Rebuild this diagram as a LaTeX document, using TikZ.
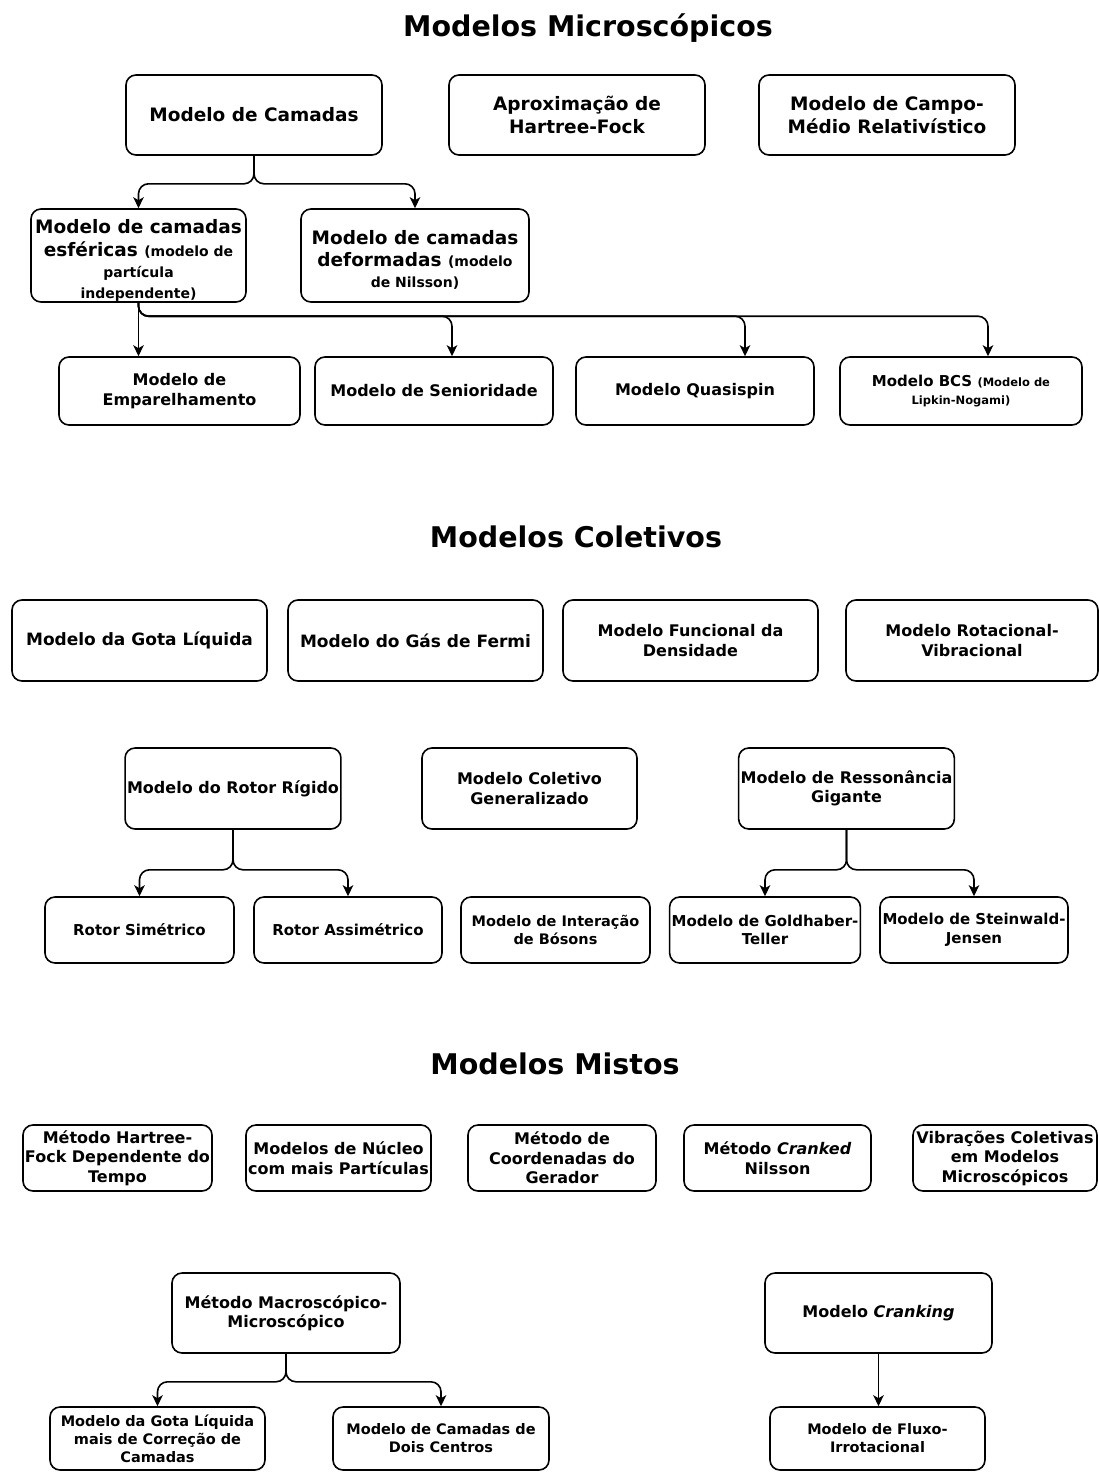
\documentclass[tikz,border=0pt]{standalone}
\usepackage{fontspec}
\setmainfont{DejaVu Sans}
\usetikzlibrary{arrows.meta,calc}
\tikzset{
  box/.style={draw, line width=1.6pt, rounded corners=10pt, align=center, inner sep=2pt},
  conn/.style={line width=1.6pt, rounded corners=10pt, -{Stealth[length=11pt,width=10.5pt,inset=3pt]}},
  ttl/.style={font=\fontsize{28.5}{34}\selectfont\bfseries},
  f18/.style={font=\fontsize{18.5}{22.5}\selectfont\bfseries},
  f17/.style={font=\fontsize{17}{21}\selectfont\bfseries},
  f16/.style={font=\fontsize{16}{19.5}\selectfont\bfseries},
  f15/.style={font=\fontsize{15}{18.5}\selectfont\bfseries},
  f14/.style={font=\fontsize{14.5}{18}\selectfont\bfseries},
}
\newcommand{\smallpar}{\fontsize{14}{17}\selectfont}
\newcommand{\tinypar}{\fontsize{11.5}{14}\selectfont}
\begin{document}
\begin{tikzpicture}[x=1pt,y=-1pt]
\useasboundingbox (0,0) rectangle (1099,1472);

% ---------- Modelos Microscópicos ----------
\node[ttl] (t1) at (588,28) {Modelos Microscópicos};
\node[box,f18,minimum width=256pt,minimum height=80pt] (camadas) at (254,115) {Modelo de Camadas};
\node[box,f18,minimum width=256pt,minimum height=80pt] (hf) at (577,115) {Aproximação de\\Hartree-Fock};
\node[box,f18,minimum width=256pt,minimum height=80pt] (rmf) at (887,115) {Modelo de Campo-\\Médio Relativístico};
\node[box,minimum width=215pt,minimum height=93pt,
  label={[f18,align=center,yshift=-5pt]center:{Modelo de camadas\\esféricas {\smallpar (modelo de}\\[-1pt]{\smallpar partícula}\\[-2pt]{\smallpar independente)}}}] (esf) at (138.5,255.5) {};
\node[box,minimum width=228pt,minimum height=93pt,
  label={[f18,align=center,yshift=-4pt]center:{Modelo de camadas\\deformadas {\smallpar (modelo}\\[-2pt]{\smallpar de Nilsson)}}}] (def) at (415,255.5) {};
\node[box,f16,minimum width=241pt,minimum height=68pt] (emp) at (179.5,391) {Modelo de\\Emparelhamento};
\node[box,f16,minimum width=238pt,minimum height=68pt] (sen) at (434,391) {Modelo de Senioridade};
\node[box,f16,minimum width=238pt,minimum height=68pt] (qs) at (695,391) {Modelo Quasispin};
\node[box,f15,minimum width=242pt,minimum height=68pt] (bcs) at (961,391) {Modelo BCS {\tinypar (Modelo de}\\{\tinypar Lipkin-Nogami)}};

\coordinate (senin) at ([xshift=18pt]sen.north);
\coordinate (qsin) at ([xshift=50pt]qs.north);
\coordinate (bcsin) at ([xshift=27pt]bcs.north);

\draw[conn] (camadas.south) -- ++(0,28) -| (esf.north);
\draw[conn] (camadas.south) -- ++(0,28) -| (def.north);
\draw[conn] (esf.south) -- (esf.south |- emp.north);
\draw[conn] (esf.south) |- ($(senin)+(0,-40)$) -- (senin);
\draw[conn] (esf.south) |- ($(qsin)+(0,-40)$) -- (qsin);
\draw[conn] (esf.south) |- ($(bcsin)+(0,-40)$) -- (bcsin);

% ---------- Modelos Coletivos ----------
\node[ttl] (t2) at (576,537) {Modelos Coletivos};
\node[box,f17,minimum width=255pt,minimum height=81pt] (gota) at (139.5,640.5) {Modelo da Gota Líquida};
\node[box,f17,minimum width=255pt,minimum height=81pt] (gas) at (415.5,640.5) {Modelo do Gás de Fermi};
\node[box,f16,minimum width=255pt,minimum height=81pt] (dft) at (690.5,640.5) {Modelo Funcional da\\Densidade};
\node[box,f16,minimum width=252pt,minimum height=81pt] (rv) at (972,640.5) {Modelo Rotacional-\\Vibracional};
\node[box,f16,minimum width=214pt,minimum height=81pt] (rotor) at (233,788.5) {Modelo do Rotor Rígido};
\node[box,f16,minimum width=215pt,minimum height=81pt] (gcm) at (529.5,788.5) {Modelo Coletivo\\Generalizado};
\node[box,f16,minimum width=215pt,minimum height=81pt] (gdr) at (846.5,788.5) {Modelo de Ressonância\\Gigante};
\node[box,f15,minimum width=189pt,minimum height=66pt] (sym) at (139.5,930) {Rotor Simétrico};
\node[box,f15,minimum width=188pt,minimum height=66pt] (asym) at (348,930) {Rotor Assimétrico};
\node[box,f14,minimum width=189pt,minimum height=66pt] (ibm) at (555.5,930) {Modelo de Interação\\de Bósons};
\node[box,f15,minimum width=188pt,minimum height=66pt] (gt) at (765,930) {Modelo de Goldhaber-\\Teller};
\node[box,f15,minimum width=188pt,minimum height=66pt] (sj) at (974,930) {Modelo de Steinwald-\\Jensen};

\draw[conn] (rotor.south) -- ++(0,40) -| (sym.north);
\draw[conn] (rotor.south) -- ++(0,40) -| (asym.north);
\draw[conn] (gdr.south) -- ++(0,40) -| (gt.north);
\draw[conn] (gdr.south) -- ++(0,40) -| (sj.north);

% ---------- Modelos Mistos ----------
\node[ttl] (t3) at (555,1064) {Modelos Mistos};
\node[box,f16,minimum width=187pt,minimum height=66pt] (tdhf) at (117.5,1158) {Método Hartree-\\Fock Dependente do\\Tempo};
\node[box,f16,minimum width=185pt,minimum height=66pt] (nucleo) at (338.5,1158) {Modelos de Núcleo\\com mais Partículas};
\node[box,f16,minimum width=188pt,minimum height=66pt] (gcm2) at (562,1158) {Método de\\Coordenadas do\\Gerador};
\node[box,f16,minimum width=187pt,minimum height=66pt] (cranked) at (777.5,1158) {Método \textit{Cranked}\\Nilsson};
\node[box,f16,minimum width=184pt,minimum height=66pt] (vib) at (1005,1158) {Vibrações Coletivas\\em Modelos\\Microscópicos};
\node[box,f16,minimum width=228pt,minimum height=80pt] (macmic) at (286,1313) {Método Macroscópico-\\Microscópico};
\node[box,f16,minimum width=227pt,minimum height=80pt] (cranking) at (878.5,1313) {Modelo \textit{Cranking}};
\node[box,f14,minimum width=215pt,minimum height=63pt] (gotacorr) at (157.5,1438.5) {Modelo da Gota Líquida\\mais de Correção de\\Camadas};
\node[box,f14,minimum width=216pt,minimum height=63pt] (twocentre) at (441,1438.5) {Modelo de Camadas de\\Dois Centros};
\node[box,f14,minimum width=215pt,minimum height=63pt] (fluxo) at (877.5,1438.5) {Modelo de Fluxo-\\Irrotacional};

\draw[conn] (macmic.south) -- ++(0,28) -| (gotacorr.north);
\draw[conn] (macmic.south) -- ++(0,28) -| (twocentre.north);
\draw[conn] (cranking.south) -- (cranking.south |- fluxo.north);
\end{tikzpicture}
\end{document}
